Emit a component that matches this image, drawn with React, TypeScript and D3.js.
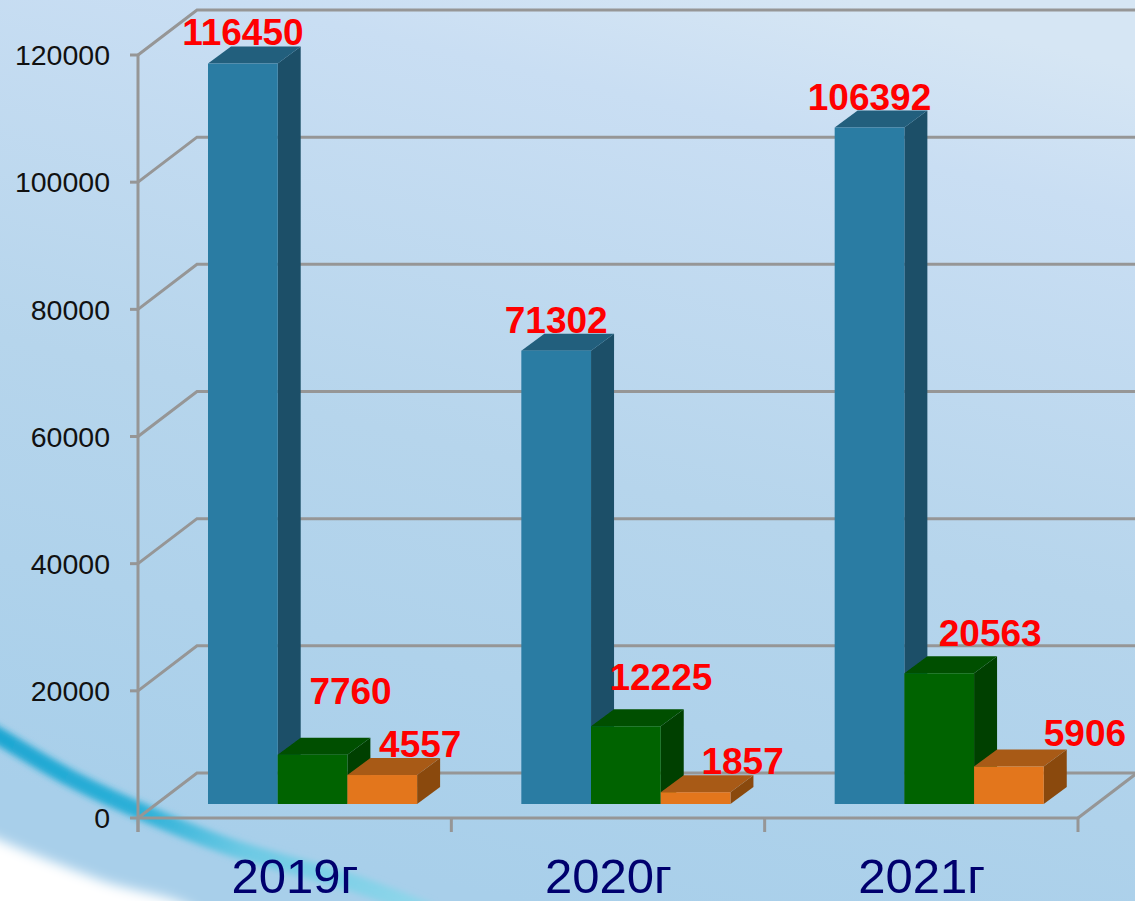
import React from 'react';
import * as d3 from 'd3';

const categories = ['2019г', '2020г', '2021г'];
const seriesNames = ['blue', 'green', 'orange'];
const blueValues = [116450, 71302, 106392];
const greenValues = [7760, 12225, 20563];
const orangeValues = [4557, 1857, 5906];
const yTickValues = [0, 20000, 40000, 60000, 80000, 100000, 120000];

const W = 1135;
const H = 901;
const axisLeft = 138;
const axisRight = 1078;
const axisBottom = 818;
const axisTop = 55;
const wallDx = 59;
const wallDy = -45;
const barDx = 23;
const barDy = -17;
const barBaseLift = 14;
const barStartOffset = 70;
const barWidth = 69.7;

const colors = {
  blue: {front: '#2c7ba3', top: '#215f7d', side: '#1c4f68'},
  green: {front: '#006400', top: '#004f00', side: '#004000'},
  orange: {front: '#e3761e', top: '#a85a18', side: '#8a4a10'},
};

// label nudges from the top centre of each bar, [dx, dy]
const labelNudges = {
  blue: [[0, -19], [0, -18], [0, -18]],
  green: [[38, -51], [35, -36], [51, -27]],
  orange: [[38, -18], [47, -18], [76, -20]],
};

const seriesValues = {blue: blueValues, green: greenValues, orange: orangeValues};

const y = d3.scaleLinear().domain([0, 120000]).range([axisBottom, axisTop]);
const xBand = d3.scaleBand().domain(categories).range([axisLeft, axisRight]);
const xSeries = d3
  .scaleBand()
  .domain(seriesNames)
  .range([0, barWidth * seriesNames.length]);

const poly = d3.line();
const swooshCurve = d3.line().curve(d3.curveCatmullRom);

export default function App() {
  const grey = '#969696';
  const tickLen = 14;
  const barBase = axisBottom - barBaseLift;
  const pxPerUnit = axisBottom - y(1);

  return (
    <svg
      width={W}
      height={H}
      viewBox={`0 0 ${W} ${H}`}
      style={{position: 'absolute', left: 0, top: 0, display: 'block'}}
      fontFamily="'Liberation Sans', Arial, sans-serif"
    >
      <defs>
        <linearGradient id="bg" x1="0.75" y1="0" x2="0.45" y2="1">
          <stop offset="0" stopColor="#d6e6f4" />
          <stop offset="0.15" stopColor="#c9def3" />
          <stop offset="0.55" stopColor="#b6d5ec" />
          <stop offset="1" stopColor="#a8cfea" />
        </linearGradient>
        <linearGradient id="swoosh" gradientUnits="userSpaceOnUse" x1="0" y1="730" x2="420" y2="900">
          <stop offset="0" stopColor="#1ea6d2" />
          <stop offset="0.35" stopColor="#2bb0d8" />
          <stop offset="0.6" stopColor="#6cc9e4" />
          <stop offset="1" stopColor="#8fd6ea" />
        </linearGradient>
        <filter id="soft" x="-10%" y="-10%" width="120%" height="120%">
          <feGaussianBlur stdDeviation="6" />
        </filter>
        <filter id="softer" x="-10%" y="-10%" width="120%" height="120%">
          <feGaussianBlur stdDeviation="3" />
        </filter>
        <filter id="edge" x="-2%" y="-2%" width="104%" height="104%">
          <feGaussianBlur stdDeviation="0.6" />
        </filter>
        <clipPath id="frame">
          <rect width={W} height={H} />
        </clipPath>
      </defs>

      <rect width={W} height={H} fill="url(#bg)" />

      {/* background swoosh, bottom left */}
      <g clipPath="url(#frame)">
        <path
          d={swooshCurve([[-30, 825], [0, 840], [100, 880], [200, 915], [200, 960], [-30, 960]]) + 'Z'}
          fill="#ffffff"
          filter="url(#soft)"
        />
        <path
          d={swooshCurve([[-20, 725], [0, 737], [70, 778], [140, 811], [230, 847], [350, 882], [430, 912]])}
          fill="none"
          stroke="url(#swoosh)"
          strokeWidth={17}
          filter="url(#softer)"
        />
      </g>

      {/* walls and floor */}
      <g fill="none" stroke={grey} strokeWidth={3} filter="url(#edge)">
        {yTickValues.map(t => (
          <path
            key={t}
            d={poly([
              [axisLeft, y(t)],
              [axisLeft + wallDx, y(t) + wallDy],
              [axisRight + wallDx, y(t) + wallDy],
            ])}
          />
        ))}
        <path d={poly([[axisLeft, axisTop], [axisLeft, axisBottom + tickLen]])} />
        <path d={poly([[axisLeft, axisBottom], [axisRight, axisBottom]])} />
        <path d={poly([[axisRight, axisBottom], [axisRight + wallDx, axisBottom + wallDy]])} />
        {yTickValues.map(t => (
          <path key={t} d={poly([[axisLeft - 8, y(t)], [axisLeft, y(t)]])} />
        ))}
        {[...categories.map(c => xBand(c)), axisRight].map(x => (
          <path key={x} d={poly([[x, axisBottom], [x, axisBottom + tickLen]])} />
        ))}
      </g>

      {/* y tick labels */}
      <g fontSize={28.5} fill="#111" textAnchor="end">
        {yTickValues.map(t => (
          <text key={t} x={110} y={y(t)} dy="0.36em">
            {t}
          </text>
        ))}
      </g>

      {/* bars */}
      <g filter="url(#edge)">
        {categories.map((c, i) =>
          seriesNames.map(s => {
            const x0 = xBand(c) + barStartOffset + xSeries(s);
            const x1 = x0 + barWidth;
            const top = barBase - seriesValues[s][i] * pxPerUnit;
            const col = colors[s];
            return (
              <g key={c + s}>
                <path
                  d={poly([[x1, barBase], [x1 + barDx, barBase + barDy], [x1 + barDx, top + barDy], [x1, top]]) + 'Z'}
                  fill={col.side}
                />
                <path
                  d={poly([[x0, top], [x0 + barDx, top + barDy], [x1 + barDx, top + barDy], [x1, top]]) + 'Z'}
                  fill={col.top}
                />
                <rect x={x0} y={top} width={barWidth} height={barBase - top} fill={col.front} />
              </g>
            );
          })
        )}
      </g>

      {/* value labels */}
      <g fontSize={37} fontWeight="bold" fill="#ff0000" textAnchor="middle">
        {categories.map((c, i) =>
          seriesNames.map(s => {
            const v = seriesValues[s][i];
            const [dx, dy] = labelNudges[s][i];
            const cx = xBand(c) + barStartOffset + xSeries(s) + barWidth / 2;
            return (
              <text key={c + s} x={cx + dx} y={barBase - v * pxPerUnit + dy}>
                {v}
              </text>
            );
          })
        )}
      </g>

      {/* category labels */}
      <g fontSize={49} fill="#00006e" textAnchor="middle">
        {categories.map(c => (
          <text key={c} x={xBand(c) + 157} y={893}>
            {c}
          </text>
        ))}
      </g>
    </svg>
  );
}
